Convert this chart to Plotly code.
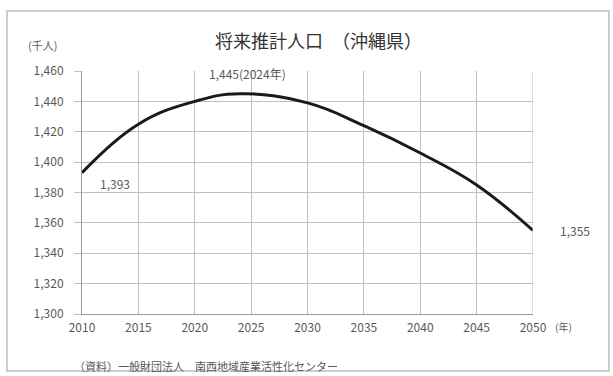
import plotly.graph_objects as go

years = [2010, 2015, 2020, 2024, 2030, 2035, 2040, 2045, 2050]
population = [1393, 1425, 1440, 1445, 1439, 1424, 1406, 1385, 1355]
x_ticks = [2010, 2015, 2020, 2025, 2030, 2035, 2040, 2045, 2050]
y_ticks = [1300, 1320, 1340, 1360, 1380, 1400, 1420, 1440, 1460]
y_tick_labels = ["1,300", "1,320", "1,340", "1,360", "1,380", "1,400", "1,420", "1,440", "1,460"]

FONT = "Noto Sans CJK JP"
TXT = "#595959"

fig = go.Figure()
fig.add_trace(go.Scatter(
    x=years, y=population, mode="lines",
    line=dict(color="#1a1a1a", width=3, shape="spline", smoothing=1.2),
    hoverinfo="skip", showlegend=False,
))

fig.update_layout(
    width=613, height=376,
    margin=dict(l=82, r=80, t=71, b=62),
    paper_bgcolor="white", plot_bgcolor="white",
    font=dict(family=FONT, color=TXT, size=11),
    showlegend=False,
    xaxis=dict(
        range=[2010, 2050], tickvals=x_ticks, ticktext=[str(v) for v in x_ticks],
        showgrid=True, gridcolor="#bfbfbf", gridwidth=1,
        showline=True, linecolor="#999999", linewidth=1,
        zeroline=False, ticks="", tickfont=dict(size=12, color=TXT),
        ticklabelstandoff=3,
    ),
    yaxis=dict(
        range=[1300, 1460], tickvals=y_ticks, ticktext=y_tick_labels,
        showgrid=True, gridcolor="#bfbfbf", gridwidth=1,
        showline=True, linecolor="#999999", linewidth=1,
        zeroline=False, ticks="outside", ticklen=7, tickcolor="#bfbfbf",
        tickfont=dict(size=12, color=TXT), ticklabelstandoff=8,
    ),
    shapes=[
        dict(type="line", xref="x", yref="paper", x0=2050, x1=2050, y0=0, y1=1,
             line=dict(color="#bfbfbf", width=1)),
        dict(type="rect", xref="paper", yref="paper",
             x0=-75/451, x1=527/451, y0=-57/243, y1=303/243,
             line=dict(color="#cccccc", width=2), layer="below"),
    ],
    annotations=[
        dict(text="将来推計人口　（沖縄県）", xref="paper", yref="paper",
             x=(318-82)/451, y=(314-40)/243, showarrow=False,
             font=dict(size=18, color="#333333", family=FONT), xanchor="center", yanchor="middle"),
        dict(text="(千人)", xref="paper", yref="paper",
             x=(42-82)/451, y=(314-45)/243, showarrow=False,
             font=dict(size=11, color=TXT), xanchor="center", yanchor="middle"),
        dict(text="(年)", xref="paper", yref="paper",
             x=(563-82)/451, y=(314-326)/243, showarrow=False,
             font=dict(size=10, color=TXT), xanchor="center", yanchor="middle"),
        dict(text="（資料）一般財団法人　南西地域産業活性化センター", xref="paper", yref="paper",
             x=(72-82)/451, y=(314-366)/243, showarrow=False,
             font=dict(size=11, color=TXT), xanchor="left", yanchor="middle"),
        dict(text="1,393", x=years[0], y=population[0], xref="x", yref="y",
             showarrow=False, xshift=33, yshift=-11, font=dict(size=12, color=TXT)),
        dict(text="1,445(2024年)", x=years[3], y=population[3], xref="x", yref="y",
             showarrow=False, xshift=8, yshift=20, font=dict(size=12, color=TXT)),
        dict(text="1,355", x=years[-1], y=population[-1], xref="x", yref="y",
             showarrow=False, xshift=42, yshift=0, font=dict(size=12, color=TXT)),
    ],
)

fig.write_html("out.html")
